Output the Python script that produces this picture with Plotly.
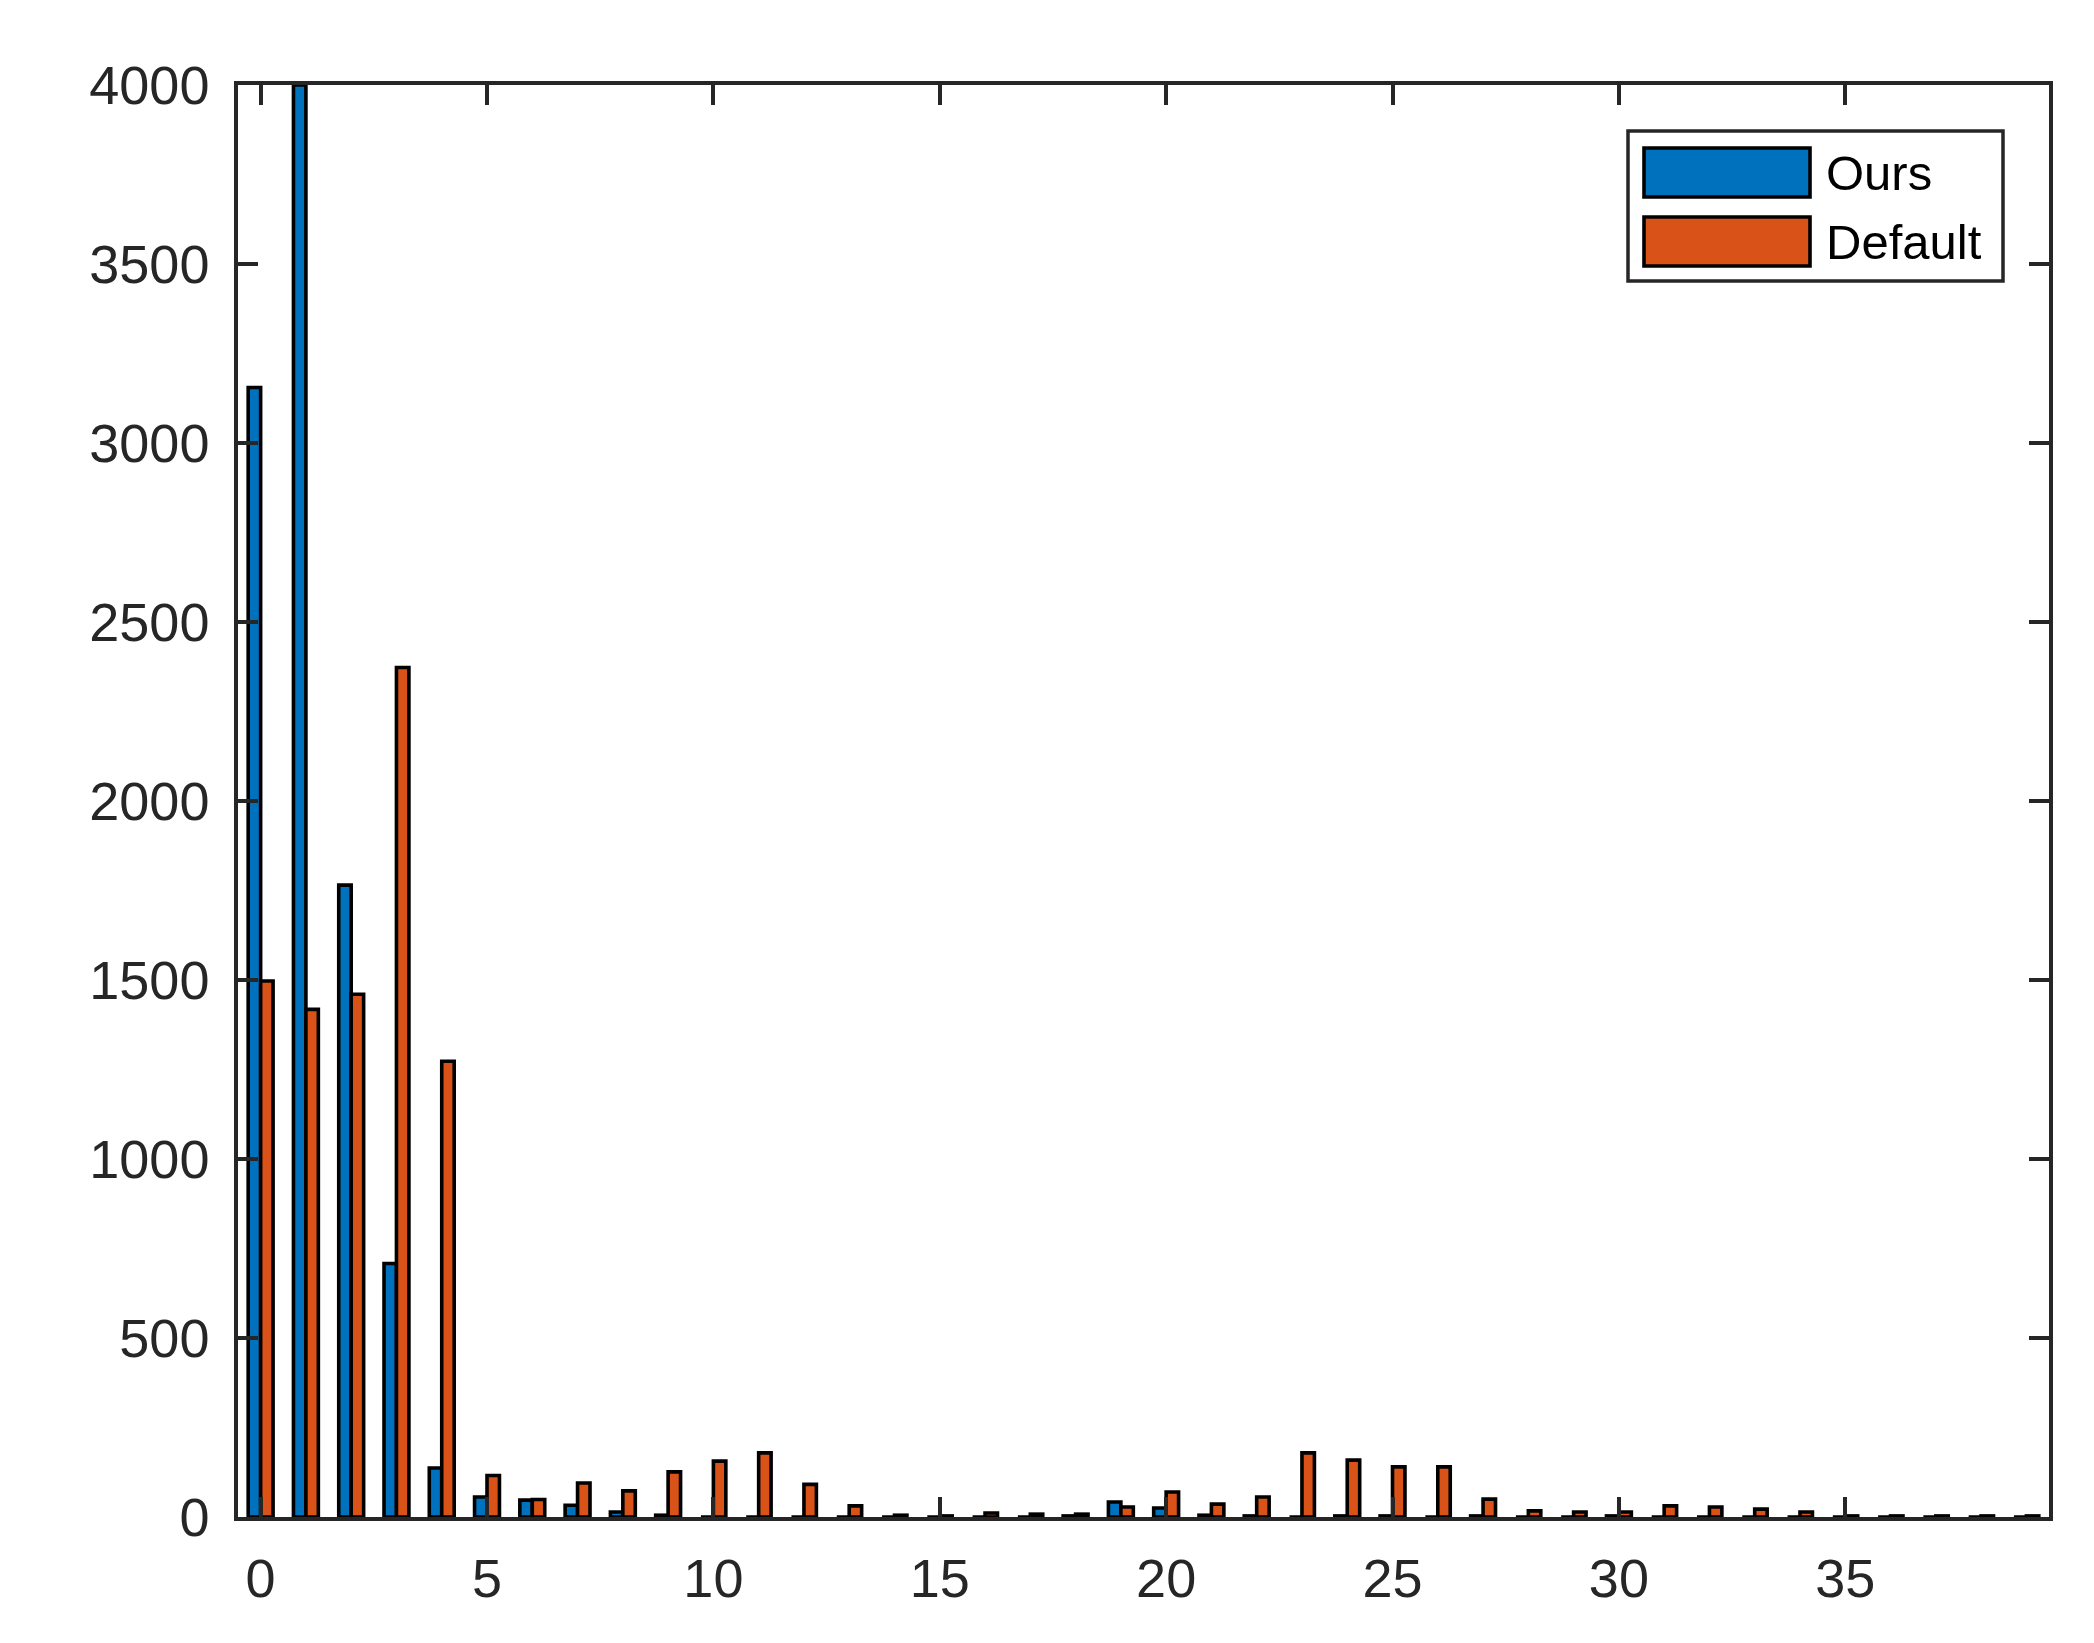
import plotly.graph_objects as go

# bin index on the x axis
bins = [0, 1, 2, 3, 4, 5, 6, 7, 8, 9,
        10, 11, 12, 13, 14, 15, 16, 17, 18, 19,
        20, 21, 22, 23, 24, 25, 26, 27, 28, 29,
        30, 31, 32, 33, 34, 35, 36, 37, 38, 39]

# counts per bin
ours = [3155, 4000, 1765, 708, 137, 56, 47, 33, 14, 5,
        0, 0, 0, 0, 0, 0, 0, 0, 3, 42,
        25, 5, 3, 0, 3, 3, 0, 3, 0, 0,
        3, 0, 0, 0, 0, 0, 0, 0, 0, 0]
default = [1497, 1418, 1460, 2373, 1273, 116, 49, 95, 73, 126,
           156, 179, 91, 31, 5, 3, 11, 8, 8, 28,
           70, 36, 56, 179, 159, 140, 140, 50, 17, 14,
           14, 31, 28, 22, 14, 3, 3, 3, 3, 3]

x_ticks = [0, 5, 10, 15, 20, 25, 30, 35]
y_ticks = [0, 500, 1000, 1500, 2000, 2500, 3000, 3500, 4000]

SERIES = [("Ours", ours, "#0072BD"), ("Default", default, "#D95319")]

W, H = 2094, 1643
L, R, T, B = 238, 45, 85, 126
AXIS = "#262626"
FONT = "Liberation Sans, Arial, sans-serif"


def px_x(p):
    """pixel column -> paper x"""
    return (p - L) / (W - L - R)


def px_y(p):
    """pixel row -> paper y"""
    return (H - B - p) / (H - T - B)


fig = go.Figure()
for name, vals, color in SERIES:
    fig.add_trace(go.Bar(
        x=bins, y=vals, name=name,
        marker=dict(color=color, line=dict(color="black", width=3.6)),
    ))

axis_style = dict(
    showline=True, linecolor=AXIS, linewidth=3.5, mirror="ticks",
    ticks="inside", ticklen=20, tickwidth=3.5, tickcolor=AXIS,
    showgrid=False, zeroline=False,
    tickfont=dict(family=FONT, size=54, color=AXIS),
)

fig.update_layout(
    width=W, height=H,
    margin=dict(l=L, r=R, t=T, b=B, pad=0),
    paper_bgcolor="white", plot_bgcolor="white",
    barmode="group", bargap=0.45, bargroupgap=0,
    showlegend=False,
    xaxis=dict(range=[-0.5, 39.5], tickvals=x_ticks, ticklabelstandoff=11, **axis_style),
    yaxis=dict(range=[0, 4000], tickvals=y_ticks, ticklabelstandoff=14, **axis_style),
)

# legend box drawn by hand to get MATLAB-style long swatches
fig.add_shape(type="rect", xref="paper", yref="paper",
              x0=px_x(1628), x1=px_x(2003), y0=px_y(281), y1=px_y(131),
              line=dict(color=AXIS, width=3.5), fillcolor="white")
for i, (name, vals, color) in enumerate(SERIES):
    top = 148 + i * 69
    fig.add_shape(type="rect", xref="paper", yref="paper",
                  x0=px_x(1644), x1=px_x(1810), y0=px_y(top + 49), y1=px_y(top),
                  line=dict(color="black", width=3.6), fillcolor=color)
    fig.add_annotation(xref="paper", yref="paper", x=px_x(1824), y=px_y(top + 25),
                       text=name, showarrow=False, xanchor="left", yanchor="middle",
                       font=dict(family=FONT, size=49, color="black"))

# drop the default 8px body margin so the figure sits at the window origin
fig.write_html("out.html", config={"displayModeBar": False},
               post_script="document.body.style.margin='0';")
